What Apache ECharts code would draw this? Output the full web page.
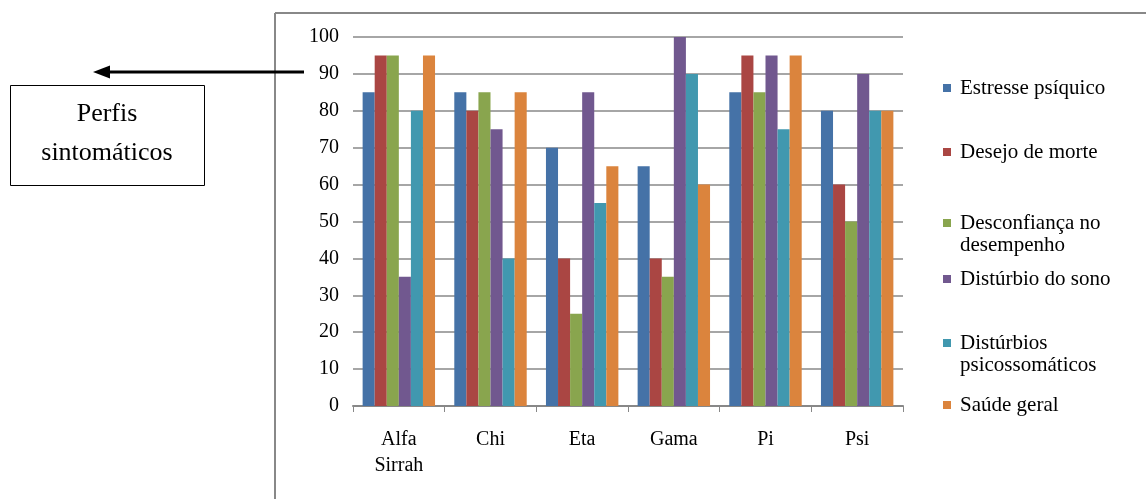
<!DOCTYPE html>
<html><head><meta charset="utf-8">
<script src="https://cdn.jsdelivr.net/npm/echarts@6/dist/echarts.min.js"></script>
<style>html,body{margin:0;padding:0;background:#fff;font-family:'Liberation Serif',serif}#c{width:1146px;height:499px}</style>
</head><body><div id="c"></div>
<script>
const categories = ['Alfa\nSirrah', 'Chi', 'Eta', 'Gama', 'Pi', 'Psi'];
const seriesNames = ['Estresse psíquico', 'Desejo de morte', 'Desconfiança no\ndesempenho', 'Distúrbio do sono', 'Distúrbios\npsicossomáticos', 'Saúde geral'];
const estresse = [85, 85, 70, 65, 85, 80];
const desejo = [95, 80, 40, 40, 95, 60];
const desconfianca = [95, 85, 25, 35, 85, 50];
const sono = [35, 75, 85, 100, 95, 90];
const psicossomaticos = [80, 40, 55, 90, 75, 80];
const saude = [95, 85, 65, 60, 95, 80];
const yTicks = [0, 10, 20, 30, 40, 50, 60, 70, 80, 90, 100];

const values = [estresse, desejo, desconfianca, sono, psicossomaticos, saude];
const colors = ['#4572A7', '#AA4643', '#89A54E', '#71588F', '#4198AF', '#DB843D'];
const legendTops = [77, 141, 212, 268, 332, 394];
const font = "'Liberation Serif', 'Times New Roman', Times, serif";
const squareIcon = 'path://M0,0L8,0L8,8L0,8Z';
const topSquareIcon = 'path://M0,0L8,0L8,8L0,8ZM0,30L0.01,30L0.01,29.99Z';

const chart = echarts.init(document.getElementById('c'));
chart.setOption({
  animation: false,
  textStyle: { fontFamily: font },
  grid: { left: 353, right: 243, top: 37, bottom: 93 },
  legend: seriesNames.map((n, i) => {
    const two = n.includes('\n');
    return {
      data: [n], left: 943, top: legendTops[i], padding: 0, itemWidth: 8, itemHeight: two ? 30 : 8, itemGap: 0,
      icon: two ? topSquareIcon : squareIcon, selectedMode: false,
      textStyle: { fontFamily: font, fontSize: 21, color: '#000', lineHeight: 22, padding: [0, 0, 0, 4] }
    };
  }),
  xAxis: {
    type: 'category', data: categories,
    axisLine: { lineStyle: { color: '#888', width: 2 } },
    axisTick: { show: true, length: 6, lineStyle: { color: '#888' } },
    axisLabel: { fontFamily: font, fontSize: 20, color: '#000', margin: 21, lineHeight: 26 }
  },
  yAxis: {
    type: 'value', min: 0, max: 100, interval: 10,
    axisLine: { show: false }, axisTick: { show: false },
    axisLabel: { fontFamily: font, fontSize: 20, color: '#000', margin: 14,
      formatter: v => yTicks.includes(v) ? String(v) : '' },
    splitLine: { lineStyle: { color: '#888', width: 1.5 } }
  },
  series: seriesNames.map((n, i) => ({
    name: n, type: 'bar', data: values[i], barGap: '0%', barCategoryGap: '21%',
    itemStyle: { color: colors[i] }
  })),
  graphic: [
    { type: 'line', shape: { x1: 275, y1: 13, x2: 275, y2: 499 }, style: { stroke: '#888', lineWidth: 2 } },
    { type: 'line', shape: { x1: 275, y1: 13, x2: 1146, y2: 13 }, style: { stroke: '#888', lineWidth: 2 } },
    { type: 'line', shape: { x1: 108, y1: 72, x2: 304, y2: 72 }, style: { stroke: '#000', lineWidth: 3 } },
    { type: 'polygon', shape: { points: [[93, 72], [110, 65.5], [110, 78.5]] }, style: { fill: '#000' } },
    { type: 'rect', shape: { x: 10.5, y: 85.5, width: 194, height: 100 }, style: { fill: '#fff', stroke: '#000', lineWidth: 1 } },
    { type: 'text', style: { text: 'Perfis', x: 107, y: 114, fill: '#000', fontFamily: font, fontSize: 26, textAlign: 'center', textVerticalAlign: 'middle' } },
    { type: 'text', style: { text: 'sintomáticos', x: 107, y: 153, fill: '#000', fontFamily: font, fontSize: 26, textAlign: 'center', textVerticalAlign: 'middle' } }
  ]
});
</script></body></html>
